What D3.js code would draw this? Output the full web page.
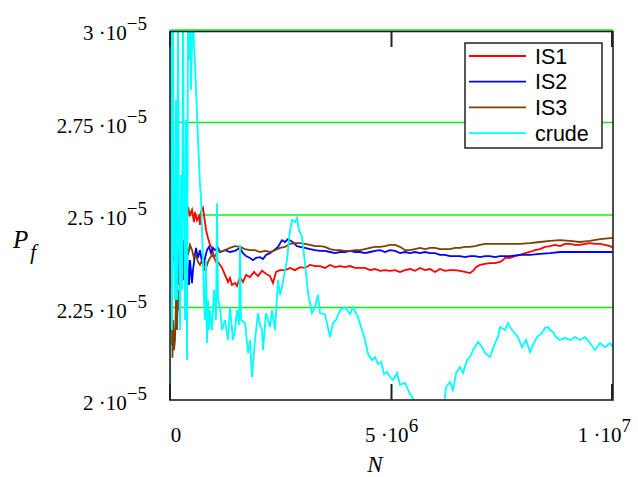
<!DOCTYPE html>
<html>
<head>
<meta charset="utf-8">
<script src="https://cdn.jsdelivr.net/npm/d3@7"></script>
<style>
  html, body { margin: 0; padding: 0; background: #fff; }
  svg { display: block; }
</style>
</head>
<body>
<svg id="chart" width="638" height="477"></svg>
<script>
// ---- data: N in millions, Pf in units of 1e-5 ----
const seriesNames = ["IS1", "IS2", "IS3", "crude"];
const seriesColors = ["#ff0000", "#0000ff", "#804000", "#00ffff"];

const is1 = [[0.023,2.432],[0.045,2.492],[0.068,2.378],[0.090,2.459],[0.113,2.324],[0.135,2.405],[0.158,2.373],[0.181,2.311],[0.203,2.419],[0.226,2.351],[0.248,2.392],[0.293,2.365],[0.339,2.432],[0.361,2.500],[0.384,2.486],[0.406,2.522],[0.451,2.500],[0.497,2.514],[0.542,2.481],[0.564,2.508],[0.609,2.486],[0.655,2.497],[0.677,2.473],[0.700,2.508],[0.745,2.519],[0.790,2.481],[0.813,2.459],[0.858,2.438],[0.903,2.419],[0.948,2.411],[0.993,2.386],[1.038,2.373],[1.084,2.373],[1.129,2.365],[1.174,2.357],[1.242,2.338],[1.309,2.319],[1.354,2.330],[1.400,2.311],[1.467,2.316],[1.512,2.308],[1.580,2.332],[1.648,2.319],[1.716,2.338],[1.806,2.332],[1.896,2.346],[1.986,2.335],[2.077,2.349],[2.167,2.341],[2.257,2.335],[2.325,2.316],[2.393,2.346],[2.483,2.351],[2.596,2.351],[2.709,2.357],[2.822,2.351],[2.935,2.359],[3.047,2.357],[3.160,2.365],[3.273,2.362],[3.386,2.362],[3.499,2.357],[3.612,2.365],[3.725,2.359],[3.837,2.362],[3.950,2.359],[4.063,2.362],[4.176,2.357],[4.289,2.357],[4.402,2.357],[4.515,2.351],[4.628,2.354],[4.740,2.349],[4.853,2.351],[4.966,2.349],[5.079,2.351],[5.192,2.346],[5.305,2.351],[5.418,2.354],[5.530,2.349],[5.643,2.357],[5.756,2.351],[5.869,2.354],[5.982,2.346],[6.095,2.354],[6.208,2.349],[6.321,2.351],[6.433,2.351],[6.546,2.349],[6.659,2.346],[6.772,2.343],[6.840,2.349],[6.907,2.359],[6.998,2.365],[7.111,2.368],[7.223,2.370],[7.336,2.370],[7.449,2.373],[7.517,2.378],[7.562,2.384],[7.675,2.384],[7.788,2.389],[7.901,2.392],[8.014,2.397],[8.126,2.400],[8.239,2.405],[8.352,2.408],[8.465,2.414],[8.578,2.416],[8.691,2.419],[8.804,2.416],[8.916,2.422],[9.029,2.422],[9.142,2.419],[9.255,2.419],[9.368,2.422],[9.481,2.424],[9.594,2.422],[9.707,2.422],[9.819,2.419],[9.932,2.416],[10.0,2.411]];

const is2 = [[0.011,2.270],[0.023,2.770],[0.034,2.405],[0.045,2.608],[0.056,2.459],[0.068,2.568],[0.090,2.378],[0.113,2.514],[0.135,2.432],[0.158,2.324],[0.181,2.459],[0.203,2.378],[0.226,2.297],[0.248,2.405],[0.271,2.351],[0.293,2.432],[0.316,2.324],[0.339,2.392],[0.361,2.365],[0.384,2.405],[0.406,2.338],[0.429,2.311],[0.451,2.378],[0.497,2.316],[0.519,2.351],[0.564,2.392],[0.587,2.411],[0.632,2.384],[0.677,2.405],[0.722,2.373],[0.767,2.365],[0.790,2.384],[0.835,2.405],[0.880,2.414],[0.926,2.397],[0.971,2.411],[1.016,2.405],[1.084,2.411],[1.129,2.400],[1.242,2.405],[1.354,2.400],[1.467,2.403],[1.580,2.411],[1.648,2.397],[1.716,2.389],[1.806,2.384],[1.874,2.378],[1.941,2.384],[2.032,2.386],[2.099,2.381],[2.167,2.392],[2.257,2.397],[2.348,2.405],[2.438,2.414],[2.528,2.432],[2.596,2.427],[2.664,2.435],[2.731,2.430],[2.799,2.424],[2.867,2.416],[2.935,2.414],[3.047,2.411],[3.160,2.408],[3.273,2.405],[3.386,2.403],[3.499,2.403],[3.612,2.400],[3.725,2.397],[3.837,2.400],[3.950,2.400],[4.063,2.403],[4.176,2.400],[4.289,2.400],[4.402,2.397],[4.515,2.400],[4.628,2.403],[4.740,2.405],[4.853,2.400],[4.966,2.405],[5.079,2.403],[5.192,2.397],[5.305,2.400],[5.418,2.397],[5.530,2.400],[5.643,2.397],[5.756,2.400],[5.869,2.397],[5.982,2.397],[6.095,2.392],[6.208,2.392],[6.321,2.389],[6.433,2.389],[6.546,2.389],[6.659,2.386],[6.772,2.389],[6.885,2.389],[6.998,2.386],[7.111,2.389],[7.223,2.389],[7.336,2.386],[7.449,2.389],[7.675,2.389],[7.901,2.392],[8.126,2.392],[8.352,2.395],[8.578,2.397],[8.804,2.400],[9.029,2.400],[9.255,2.400],[9.481,2.400],[9.707,2.400],[10.0,2.400]];

const is3 = [[0.011,2.378],[0.023,2.270],[0.034,2.149],[0.045,2.297],[0.056,2.114],[0.068,2.216],[0.090,2.135],[0.113,2.162],[0.135,2.270],[0.158,2.189],[0.181,2.297],[0.203,2.243],[0.226,2.330],[0.248,2.297],[0.271,2.357],[0.316,2.338],[0.339,2.384],[0.361,2.373],[0.384,2.411],[0.406,2.392],[0.451,2.419],[0.497,2.405],[0.542,2.384],[0.587,2.392],[0.632,2.373],[0.677,2.365],[0.722,2.378],[0.767,2.351],[0.813,2.357],[0.858,2.373],[0.903,2.384],[0.948,2.392],[1.016,2.389],[1.084,2.405],[1.129,2.400],[1.242,2.405],[1.354,2.411],[1.467,2.416],[1.580,2.414],[1.693,2.408],[1.806,2.405],[1.919,2.405],[2.032,2.400],[2.144,2.403],[2.257,2.400],[2.370,2.405],[2.483,2.411],[2.596,2.414],[2.709,2.422],[2.822,2.424],[2.935,2.424],[3.047,2.422],[3.160,2.419],[3.273,2.416],[3.386,2.416],[3.499,2.414],[3.612,2.408],[3.725,2.405],[3.837,2.405],[3.950,2.403],[4.063,2.403],[4.176,2.405],[4.289,2.405],[4.402,2.408],[4.515,2.411],[4.628,2.414],[4.740,2.414],[4.853,2.416],[4.966,2.419],[5.079,2.419],[5.192,2.414],[5.305,2.405],[5.418,2.405],[5.530,2.408],[5.643,2.411],[5.756,2.408],[5.869,2.411],[5.982,2.411],[6.095,2.408],[6.208,2.408],[6.321,2.408],[6.433,2.411],[6.546,2.411],[6.659,2.414],[6.772,2.414],[6.885,2.416],[6.998,2.419],[7.111,2.422],[7.223,2.422],[7.449,2.422],[7.675,2.422],[7.901,2.422],[8.126,2.424],[8.352,2.427],[8.578,2.430],[8.804,2.432],[9.029,2.430],[9.255,2.427],[9.481,2.430],[9.707,2.435],[10.0,2.438]];

const crude = [[0,2.000],[0.011,2.270],[0.023,3.05],[0.045,2.189],[0.068,3.05],[0.090,2.405],[0.113,2.270],[0.135,2.811],[0.158,2.270],[0.181,3.05],[0.203,2.405],[0.226,2.189],[0.248,2.608],[0.271,2.297],[0.293,3.05],[0.316,2.541],[0.339,2.216],[0.361,2.757],[0.384,2.108],[0.406,3.05],[0.429,2.919],[0.451,3.05],[0.474,2.838],[0.497,2.973],[0.519,3.05],[0.542,2.959],[0.564,2.911],[0.587,2.838],[0.609,2.776],[0.632,2.703],[0.655,2.641],[0.677,2.581],[0.700,2.549],[0.722,2.459],[0.745,2.378],[0.767,2.270],[0.790,2.216],[0.813,2.378],[0.835,2.154],[0.858,2.270],[0.880,2.189],[0.903,2.243],[0.948,2.189],[0.993,2.297],[1.038,2.216],[1.061,2.532],[1.084,2.270],[1.129,2.251],[1.174,2.189],[1.242,2.216],[1.309,2.162],[1.354,2.251],[1.422,2.162],[1.467,2.189],[1.512,2.243],[1.558,2.203],[1.580,2.419],[1.603,2.216],[1.693,2.208],[1.761,2.127],[1.806,2.162],[1.851,2.062],[1.919,2.162],[1.986,2.235],[2.032,2.203],[2.077,2.189],[2.099,2.135],[2.167,2.235],[2.257,2.197],[2.302,2.243],[2.370,2.189],[2.438,2.324],[2.483,2.284],[2.528,2.305],[2.596,2.351],[2.641,2.378],[2.709,2.459],[2.754,2.486],[2.822,2.481],[2.867,2.492],[2.912,2.459],[2.980,2.441],[3.047,2.370],[3.115,2.289],[3.205,2.235],[3.273,2.251],[3.341,2.284],[3.386,2.235],[3.499,2.232],[3.612,2.170],[3.679,2.208],[3.747,2.216],[3.837,2.243],[3.950,2.251],[4.063,2.232],[4.131,2.251],[4.244,2.224],[4.334,2.189],[4.402,2.162],[4.470,2.124],[4.560,2.108],[4.628,2.116],[4.695,2.097],[4.763,2.103],[4.831,2.070],[4.898,2.076],[4.966,2.062],[5.034,2.054],[5.124,2.073],[5.192,2.041],[5.305,2.046],[5.418,2.016],[5.508,2.000],[5.598,1.973],[5.869,1.946],[6.095,1.959],[6.185,1.986],[6.230,2.035],[6.321,2.049],[6.388,2.027],[6.456,2.073],[6.546,2.089],[6.614,2.073],[6.704,2.108],[6.772,2.116],[6.840,2.135],[6.953,2.157],[7.043,2.143],[7.111,2.127],[7.223,2.116],[7.336,2.154],[7.404,2.170],[7.449,2.197],[7.562,2.189],[7.630,2.208],[7.720,2.189],[7.856,2.170],[7.946,2.143],[8.036,2.162],[8.126,2.130],[8.194,2.149],[8.284,2.170],[8.397,2.181],[8.465,2.195],[8.533,2.197],[8.578,2.189],[8.646,2.184],[8.713,2.170],[8.804,2.162],[8.916,2.168],[9.029,2.162],[9.142,2.170],[9.255,2.162],[9.368,2.170],[9.481,2.154],[9.594,2.135],[9.707,2.154],[9.819,2.143],[9.932,2.154],[10.0,2.143]];

const seriesData = [is1, is2, is3, crude];

const yTickValues = [3, 2.75, 2.5, 2.25, 2];          // ×1e-5
const yTickMantissa = ["3", "2.75", "2.5", "2.25", "2"];
const yTickExp = "\u22125";
const xTickValues = [0, 5, 10];                      // ×1e6
const xTickMantissa = ["0", "5", "1"];
const xTickExp = ["", "6", "7"];
const gridValues = [3, 2.75, 2.5, 2.25];

const NUNIT = 1e6, PUNIT = 1e-5;

// ---- layout ----
const svg = d3.select("#chart");
const L = 170, R = 613, T = 30, B = 400;
const x = d3.scaleLinear().domain([0, 1e7]).range([L, R]);
const y = d3.scaleLinear().domain([2e-5, 3e-5]).range([B, T]);

svg.append("defs").append("clipPath").attr("id", "clip")
  .append("rect").attr("x", L).attr("y", T).attr("width", R - L).attr("height", B - T);

// green grid
svg.append("g").selectAll("line").data(gridValues).join("line")
  .attr("x1", L).attr("x2", R)
  .attr("y1", d => y(d * PUNIT)).attr("y2", d => y(d * PUNIT))
  .attr("stroke", "#10f010").attr("stroke-width", 1.3);

// series
const line = d3.line().x(d => x(d[0] * NUNIT)).y(d => y(d[1] * PUNIT));
const plot = svg.append("g").attr("clip-path", "url(#clip)");
seriesData.forEach((s, i) => {
  plot.append("path").datum(s)
    .attr("d", line)
    .attr("fill", "none")
    .attr("stroke", seriesColors[i])
    .attr("stroke-width", 1.8)
    .attr("stroke-linejoin", "miter");
});

// frame
svg.append("rect").attr("x", L).attr("y", T + 1.5).attr("width", R - L).attr("height", B - T - 1.5)
  .attr("fill", "none").attr("stroke", "#222").attr("stroke-width", 1.6);

// x ticks (inward, top & bottom)
const tickG = svg.append("g").attr("stroke", "#222").attr("stroke-width", 2);
xTickValues.forEach(v => {
  const px = Math.min(x(v * NUNIT), R - 1);
  tickG.append("line").attr("x1", px).attr("x2", px).attr("y1", B).attr("y2", B - 16);
  tickG.append("line").attr("x1", px).attr("x2", px).attr("y1", T + 1.5).attr("y2", T + 17);
});

// y tick labels
const serif = "Liberation Serif, Tinos, Times New Roman, DejaVu Serif, serif";
yTickValues.forEach((v, i) => {
  const t = svg.append("text")
    .attr("x", 147).attr("y", y(v * PUNIT) + 10)
    .attr("text-anchor", "end")
    .attr("font-family", serif).attr("font-size", 21).attr("fill", "#000");
  t.append("tspan").text(yTickMantissa[i] + " \u00b710");
  t.append("tspan").attr("dy", -10).attr("font-size", 19).text(yTickExp);
});

// x tick labels
xTickValues.forEach((v, i) => {
  let px = x(v * NUNIT);
  let anchor = "middle";
  if (i === 0) px += 6;
  if (i === xTickValues.length - 1) { px = 631; anchor = "end"; }
  const t = svg.append("text")
    .attr("x", px).attr("y", 442)
    .attr("text-anchor", anchor)
    .attr("font-family", serif).attr("font-size", 21).attr("fill", "#000");
  if (xTickExp[i] === "") {
    t.text(xTickMantissa[i]);
  } else {
    t.append("tspan").text(xTickMantissa[i] + " \u00b710");
    t.append("tspan").attr("dy", -10).attr("font-size", 19).text(xTickExp[i]);
  }
});

// axis titles
const yt = svg.append("text").attr("x", 13).attr("y", 248)
  .attr("font-family", serif).attr("font-style", "italic").attr("font-size", 25).attr("fill", "#000");
yt.append("tspan").text("P");
yt.append("tspan").attr("dy", 11).attr("dx", 2).attr("font-size", 21).text("f");

svg.append("text").attr("x", 375).attr("y", 472).attr("text-anchor", "middle")
  .attr("font-family", serif).attr("font-style", "italic").attr("font-size", 23).attr("fill", "#000")
  .text("N");

// legend
const lg = svg.append("g");
lg.append("rect").attr("x", 465).attr("y", 43).attr("width", 137).attr("height", 105)
  .attr("fill", "#fff").attr("stroke", "#222").attr("stroke-width", 1.5);
seriesNames.forEach((name, i) => {
  const ly = 56 + i * 25.7;
  lg.append("line").attr("x1", 469).attr("x2", 526).attr("y1", ly).attr("y2", ly)
    .attr("stroke", seriesColors[i]).attr("stroke-width", 1.8);
  lg.append("text").attr("x", 535).attr("y", ly + 7.5)
    .attr("font-family", "Liberation Sans, Arial, sans-serif").attr("font-size", 21.5).attr("fill", "#000")
    .text(name);
});
</script>
</body>
</html>
